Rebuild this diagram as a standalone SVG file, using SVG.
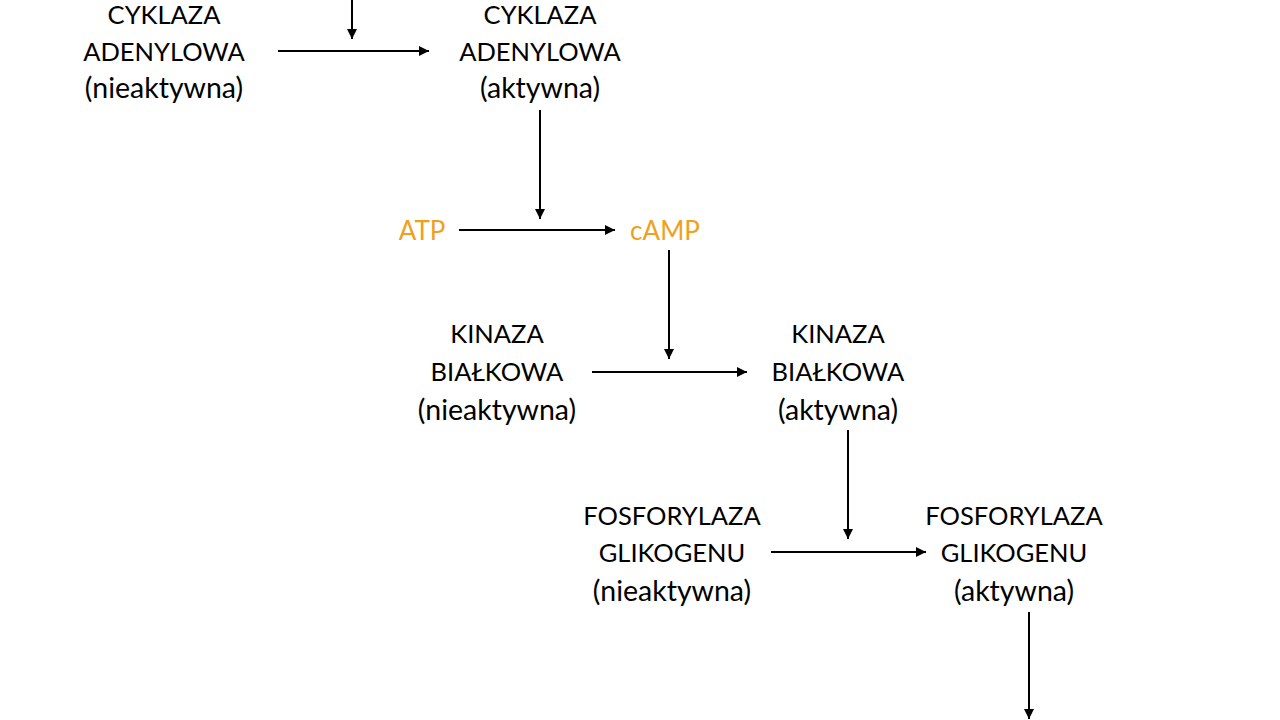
<svg xmlns="http://www.w3.org/2000/svg" width="1280" height="720" viewBox="0 0 1280 720">
<defs>
<marker id="ah" viewBox="0 0 10 10" refX="10" refY="5" markerWidth="10" markerHeight="10" markerUnits="userSpaceOnUse" orient="auto">
<path d="M0,0 L10,5 L0,10 z" fill="#000"/>
</marker>
<style>
text{font-family:Lato,"Open Sans","Liberation Sans",sans-serif;font-size:25.5px;fill:#000;text-anchor:middle}
.l{font-size:28.5px}
.o{fill:#F0A020;font-size:26px}
.c line{stroke:#000;stroke-width:2;marker-end:url(#ah)}
</style>
</defs>
<rect width="1280" height="720" fill="#fff"/>
<g id="cyk_in"><text x="164" y="24">CYKLAZA</text><text x="164" y="61">ADENYLOWA</text><text class="l" x="164" y="98">(nieaktywna)</text></g>
<g id="cyk_act"><text x="540" y="24">CYKLAZA</text><text x="540" y="61">ADENYLOWA</text><text class="l" x="540" y="98">(aktywna)</text></g>
<g id="atp"><text class="o" x="422" y="240">ATP</text></g>
<g id="camp"><text class="o" x="665" y="240">cAMP</text></g>
<g id="kin_in"><text x="497" y="343">KINAZA</text><text x="497" y="381">BIAŁKOWA</text><text class="l" x="497" y="420">(nieaktywna)</text></g>
<g id="kin_act"><text x="838" y="343">KINAZA</text><text x="838" y="381">BIAŁKOWA</text><text class="l" x="838" y="420">(aktywna)</text></g>
<g id="fos_in"><text x="672" y="525">FOSFORYLAZA</text><text x="672" y="562">GLIKOGENU</text><text class="l" x="672" y="601">(nieaktywna)</text></g>
<g id="fos_act"><text x="1014" y="525">FOSFORYLAZA</text><text x="1014" y="562">GLIKOGENU</text><text class="l" x="1014" y="601">(aktywna)</text></g>
<g class="c" id="connectors">
<line x1="352" y1="0" x2="352" y2="39"/>
<line x1="278" y1="51" x2="429" y2="51"/>
<line x1="540" y1="110" x2="540" y2="219"/>
<line x1="459" y1="230" x2="615" y2="230"/>
<line x1="669" y1="250" x2="669" y2="359"/>
<line x1="592" y1="372" x2="747" y2="372"/>
<line x1="848" y1="430" x2="848" y2="539"/>
<line x1="771" y1="552" x2="926" y2="552"/>
<line x1="1029" y1="612" x2="1029" y2="719"/>
</g>
</svg>
